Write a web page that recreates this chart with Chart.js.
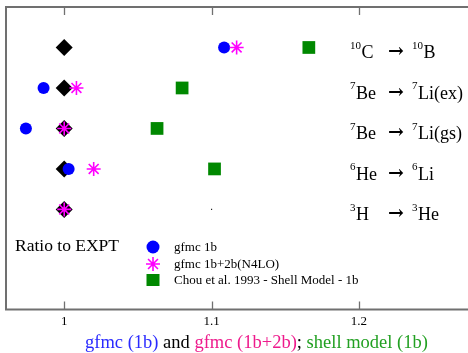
<!DOCTYPE html>
<html><head><meta charset="utf-8">
<script src="https://cdn.jsdelivr.net/npm/chart.js@4/dist/chart.umd.min.js"></script>
<style>html,body{margin:0;padding:0;background:#fff;overflow:hidden}#wrap{width:468px;height:353px;position:relative}</style>
</head><body><div id="wrap"><canvas id="c" width="468" height="353"></canvas></div>
<script>
// Rows (top to bottom)
const rowPos = [5, 4, 3, 2, 1];
const leftSup = ['10', '7', '7', '6', '3'];
const leftMain = ['C', 'Be', 'Be', 'He', 'H'];
const rightSup = ['10', '7', '7', '6', '3'];
const rightMain = ['B', 'Li(ex)', 'Li(gs)', 'Li', 'He'];
// Ratios to experiment
const expt = [1, 1, 1, 1, 1];
const gfmc1b = [1.1085, 0.986, 0.974, 1.003, null];
const gfmc1b2b = [1.117, 1.0083, 1.0, 1.020, 1.0];
const shellModel = [1.166, 1.080, 1.063, 1.102, 1.1];
const xTicks = [1, 1.1, 1.2];
const legendLabels = ['gfmc 1b', 'gfmc 1b+2b(N4LO)', 'Chou et al. 1993 - Shell Model - 1b'];
const titleParts = [['gfmc (1b)', '#2a2aff'], [' and ', '#000'], ['gfmc (1b+2b)', '#ee1a8c'], ['; ', '#000'], ['shell model (1b)', '#22a022']];

const pts = arr => arr.map((v, i) => v == null ? null : {x: v, y: rowPos[i]}).filter(p => p);
const SERIF = '"Liberation Serif", "Times New Roman", serif';

const overlay = {
  id: 'overlay',
  afterDatasetsDraw(chart) {
    const ctx = chart.ctx, xs = chart.scales.x, ys = chart.scales.y, a = chart.chartArea;
    const W = chart.width;
    ctx.save();
    // frame (no right side)
    ctx.strokeStyle = '#707070'; ctx.lineWidth = 2;
    ctx.beginPath();
    ctx.moveTo(W + 5, a.top); ctx.lineTo(a.left, a.top); ctx.lineTo(a.left, a.bottom); ctx.lineTo(W + 5, a.bottom);
    ctx.stroke();
    // ticks (inside)
    ctx.lineWidth = 1.3;
    xTicks.forEach(t => {
      const px = Math.round(xs.getPixelForValue(t)) + 0.5;
      ctx.beginPath(); ctx.moveTo(px, a.top); ctx.lineTo(px, a.top + 8);
      ctx.moveTo(px, a.bottom); ctx.lineTo(px, a.bottom - 8); ctx.stroke();
    });
    // row labels
    ctx.fillStyle = '#000'; ctx.textBaseline = 'alphabetic'; ctx.textAlign = 'left';
    rowPos.forEach((r, i) => {
      const by = ys.getPixelForValue(r) + 11;
      const drawSup = (x, sup, main) => {
        ctx.font = '11px ' + SERIF; ctx.fillText(sup, x, by - 9.5);
        const w = ctx.measureText(sup).width;
        ctx.font = '18px ' + SERIF; ctx.fillText(main, x + w + 0.5, by);
      };
      drawSup(350, leftSup[i], leftMain[i]);
      ctx.font = 'bold 19px "DejaVu Serif", serif'; ctx.fillText('\u2192', 388, by - 1);
      drawSup(412, rightSup[i], rightMain[i]);
    });
    // "Ratio to EXPT"
    ctx.font = '17.5px ' + SERIF; ctx.fillText('Ratio to EXPT', 15, 251);
    // legend
    const lx = 153, ly = [247, 264, 280];
    ctx.fillStyle = '#0000ff'; ctx.beginPath(); ctx.arc(lx, ly[0], 6.5, 0, Math.PI * 2); ctx.fill();
    ctx.strokeStyle = '#ff00ff'; ctx.lineWidth = 1.6; ctx.beginPath();
    for (let k = 0; k < 4; k++) { const ang = k * Math.PI / 4; const dx = Math.cos(ang) * 7, dy = Math.sin(ang) * 7; ctx.moveTo(lx - dx, ly[1] - dy); ctx.lineTo(lx + dx, ly[1] + dy); }
    ctx.stroke();
    ctx.fillStyle = '#008800'; ctx.fillRect(lx - 6.5, ly[2] - 6, 13, 12);
    ctx.fillStyle = '#000'; ctx.font = '13px ' + SERIF;
    legendLabels.forEach((t, i) => ctx.fillText(t, 174, ly[i] + 4));
    // bottom title
    ctx.font = '18.5px ' + SERIF;
    let x = 85;
    titleParts.forEach(([t, c]) => { ctx.fillStyle = c; ctx.fillText(t, x, 348); x += ctx.measureText(t).width; });
    ctx.restore();
  }
};

new Chart(document.getElementById('c'), {
  type: 'scatter',
  data: {
    datasets: [
      {label: legendLabels[2], data: pts(shellModel), pointStyle: 'rect', pointRadius: [9, 9, 9, 9, 0.8],
       backgroundColor: ['#008800', '#008800', '#008800', '#008800', '#222'], borderWidth: 0},
      {label: legendLabels[1], data: pts(gfmc1b2b), pointStyle: 'star', pointRadius: 7, borderColor: '#ff00ff', borderWidth: 1.6, backgroundColor: '#ff00ff'},
      {label: legendLabels[0], data: pts(gfmc1b), pointStyle: 'circle', pointRadius: 6, backgroundColor: '#0000ff', borderWidth: 0},
      {label: 'EXPT', data: pts(expt), pointStyle: 'rectRot', pointRadius: 8.5, backgroundColor: '#000', borderWidth: 0}
    ]
  },
  options: {
    responsive: false, animation: false, devicePixelRatio: 1, clip: false,
    layout: {autoPadding: false, padding: {left: 6, top: 7, right: 0, bottom: 20}},
    plugins: {legend: {display: false}, tooltip: {enabled: false}},
    scales: {
      x: {type: 'linear', min: 0.9605, max: 1.274,
          grid: {display: false, drawTicks: false}, border: {display: false},
          afterBuildTicks: s => { s.ticks = xTicks.map(v => ({value: v})); },
          afterFit: s => { s.paddingLeft = 0; s.paddingRight = 0; },
          ticks: {font: {family: SERIF, size: 13}, color: '#000', padding: 4, callback: v => String(v)}},
      y: {type: 'linear', min: -1.47, max: 6, display: false}
    }
  },
  plugins: [overlay]
});
</script></body></html>
